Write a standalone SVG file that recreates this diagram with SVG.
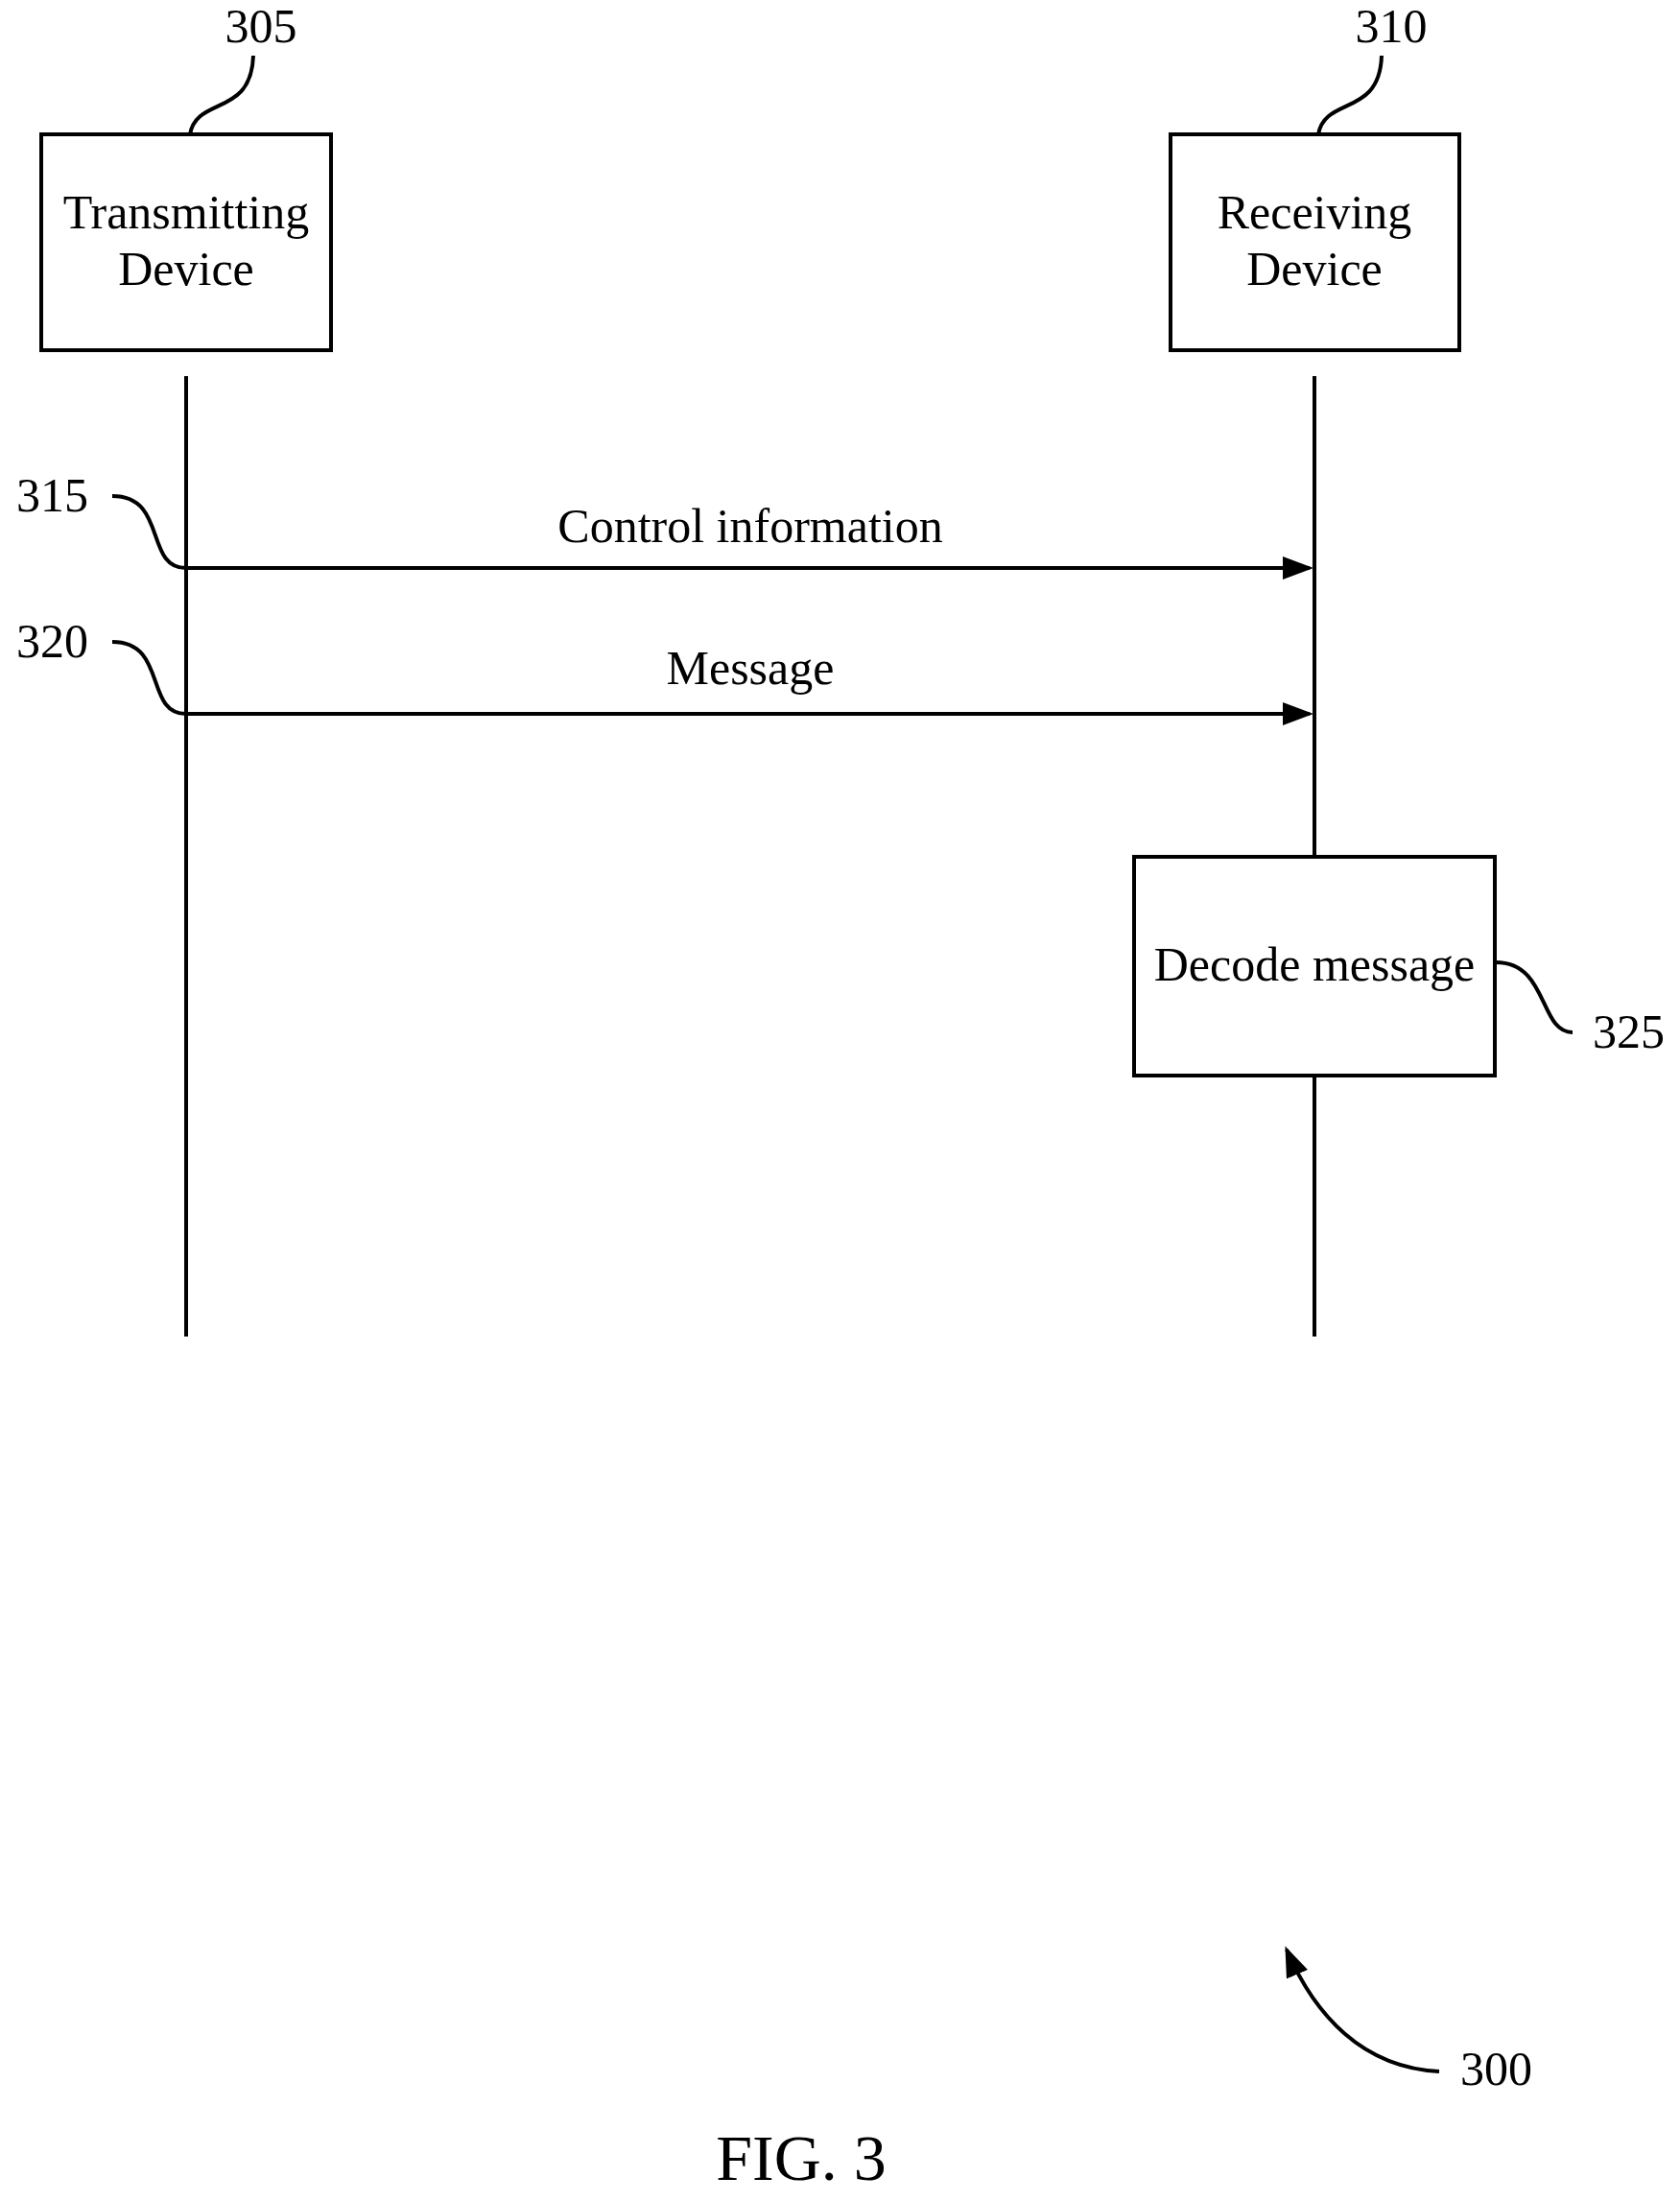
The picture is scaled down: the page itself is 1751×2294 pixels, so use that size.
<svg xmlns="http://www.w3.org/2000/svg" width="1751" height="2294" viewBox="0 0 1751 2294">
<style>
text{font-family:"Liberation Serif","Times New Roman",serif;font-size:50px;fill:#000}
.b{fill:#fff;stroke:#000;stroke-width:4}
.l{fill:none;stroke:#000;stroke-width:4}
.c{text-anchor:middle}
</style>
<defs><marker id="a" markerWidth="8" markerHeight="6" refX="7" refY="3" orient="auto" markerUnits="strokeWidth"><path d="M0,0 L8,3 L0,6 Z" fill="#000"/></marker></defs>
<rect width="1751" height="2294" fill="#fff"/>
<g id="n305"><rect class="b" x="43" y="140" width="302" height="225"/><text class="c" x="194" y="238">Transmitting</text><text class="c" x="194" y="297">Device</text></g>
<g id="n310"><rect class="b" x="1220" y="140" width="301" height="225"/><text class="c" x="1370" y="238">Receiving</text><text class="c" x="1370" y="297">Device</text></g>
<g id="connectors">
<line class="l" x1="194" y1="392" x2="194" y2="1393"/>
<line class="l" x1="1370" y1="392" x2="1370" y2="892"/>
<line class="l" x1="1370" y1="1120" x2="1370" y2="1393"/>
<line class="l" x1="194" y1="592" x2="1365" y2="592" marker-end="url(#a)"/>
<line class="l" x1="194" y1="744" x2="1365" y2="744" marker-end="url(#a)"/>
<text class="c" x="782" y="565">Control information</text>
<text class="c" x="782" y="713">Message</text>
<path class="l" d="M198,140 C205,100 262,122 264,58"/>
<path class="l" d="M1374,140 C1381,100 1438,122 1440,58"/>
<path class="l" d="M117,517 C175,517 150,592 194,592"/>
<path class="l" d="M117,669 C175,669 150,744 194,744"/>
<path class="l" d="M1559,1003 C1614,1003 1604,1076 1639,1076"/>
<path class="l" d="M1500,2159 C1420,2155 1370,2100 1341,2032" marker-end="url(#a)"/>
</g>
<g id="n325"><rect class="b" x="1182" y="893" width="376" height="228"/><text class="c" x="1370" y="1022">Decode message</text></g>
<text class="c" x="272" y="44">305</text>
<text class="c" x="1450" y="44">310</text>
<text x="17" y="533">315</text>
<text x="17" y="685">320</text>
<text x="1660" y="1092">325</text>
<text x="1522" y="2173">300</text>
<text class="c" x="835" y="2272" style="font-size:68px">FIG. 3</text>
</svg>
